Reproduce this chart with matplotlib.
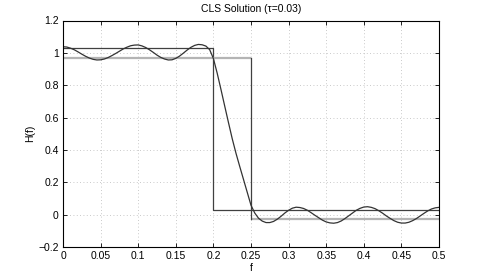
import matplotlib
matplotlib.use("Agg")
import matplotlib.pyplot as plt

plt.rcParams['font.family'] = ['Liberation Sans', 'DejaVu Sans']

# Frequency response
freq = [0.000, 0.005, 0.010, 0.015, 0.020, 0.025, 0.030, 0.035, 0.040, 0.045,
        0.050, 0.055, 0.060, 0.065, 0.070, 0.075, 0.080, 0.085, 0.090, 0.095,
        0.100, 0.105, 0.110, 0.115, 0.120, 0.125, 0.130, 0.135, 0.140, 0.145,
        0.150, 0.155, 0.160, 0.165, 0.170, 0.175, 0.180, 0.185, 0.190, 0.195,
        0.200, 0.205, 0.210, 0.215, 0.220, 0.225, 0.230, 0.235, 0.240, 0.245,
        0.250, 0.255, 0.260, 0.265, 0.270, 0.275, 0.280, 0.285, 0.290, 0.295,
        0.300, 0.305, 0.310, 0.315, 0.320, 0.325, 0.330, 0.335, 0.340, 0.345,
        0.350, 0.355, 0.360, 0.365, 0.370, 0.375, 0.380, 0.385, 0.390, 0.395,
        0.400, 0.405, 0.410, 0.415, 0.420, 0.425, 0.430, 0.435, 0.440, 0.445,
        0.450, 0.455, 0.460, 0.465, 0.470, 0.475, 0.480, 0.485, 0.490, 0.495,
        0.500]
response = [1.038, 1.036, 1.029, 1.019, 1.006, 0.992, 0.979, 0.968, 0.960, 0.956,
            0.957, 0.962, 0.971, 0.983, 0.996, 1.010, 1.024, 1.035, 1.044, 1.048,
            1.049, 1.043, 1.033, 1.019, 1.003, 0.986, 0.972, 0.962, 0.956, 0.957,
            0.966, 0.980, 0.998, 1.017, 1.034, 1.046, 1.052, 1.050, 1.042, 1.020,
            0.965, 0.875, 0.775, 0.672, 0.570, 0.470, 0.380, 0.298, 0.218, 0.138,
            0.058, 0.010, -0.022, -0.040, -0.049, -0.049, -0.042, -0.028, -0.010, 0.010,
            0.027, 0.040, 0.046, 0.044, 0.038, 0.027, 0.012, -0.004, -0.019, -0.034,
            -0.045, -0.051, -0.053, -0.049, -0.039, -0.024, -0.007, 0.010, 0.027, 0.039,
            0.047, 0.049, 0.045, 0.037, 0.024, 0.009, -0.008, -0.023, -0.037, -0.047,
            -0.052, -0.052, -0.047, -0.037, -0.024, -0.008, 0.008, 0.023, 0.035, 0.042,
            0.045]

# Constraint bounds
upper_f = [0.0, 0.2, 0.2, 0.5]
upper_v = [1.03, 1.03, 0.03, 0.03]
lower_f = [0.0, 0.25, 0.25, 0.5]
lower_v = [0.97, 0.97, -0.03, -0.03]

xticks = [0, 0.05, 0.1, 0.15, 0.2, 0.25, 0.3, 0.35, 0.4, 0.45, 0.5]
xticklabels = ['0', '0.05', '0.1', '0.15', '0.2', '0.25', '0.3', '0.35', '0.4', '0.45', '0.5']
yticks = [-0.2, 0, 0.2, 0.4, 0.6, 0.8, 1, 1.2]
yticklabels = ['\u22120.2', '0', '0.2', '0.4', '0.6', '0.8', '1', '1.2']

fig = plt.figure(figsize=(4.86, 2.79), dpi=100)
ax = fig.add_axes([63 / 486, 1 - 247 / 279, (439 - 63) / 486, (247 - 20.5) / 279])

ax.grid(True, linestyle=(0, (1, 3)), color='#b8b8b8', linewidth=0.6)
ax.set_axisbelow(True)

ax.plot(upper_f, upper_v, color='#404040', linewidth=0.9)
# lower bound: horizontal parts render light, vertical part dark
ax.plot(lower_f[:2], lower_v[:2], color='#b4b4b4', linewidth=1.6, solid_capstyle='butt')
ax.plot(lower_f[2:], lower_v[2:], color='#b4b4b4', linewidth=1.6, solid_capstyle='butt')
ax.plot(lower_f[1:3], lower_v[1:3], color='#404040', linewidth=0.9)

ax.plot(freq, response, color='#333333', linewidth=0.9)

ax.set_xlim(0, 0.5)
ax.set_ylim(-0.2, 1.2)
ax.set_xticks(xticks)
ax.set_xticklabels(xticklabels)
ax.set_yticks(yticks)
ax.set_yticklabels(yticklabels)
ax.tick_params(direction='in', length=3, width=0.6, labelsize=7.5, top=True, right=True, pad=3)
for s in ax.spines.values():
    s.set_linewidth(0.8)

ax.set_title('CLS Solution (\u03c4=0.03)', fontsize=7.5, pad=6)
ax.set_xlabel('f', fontsize=7.5, labelpad=1)
ax.set_ylabel('H(f)', fontsize=7.5, labelpad=2)

fig.savefig('out.png', dpi=100)
